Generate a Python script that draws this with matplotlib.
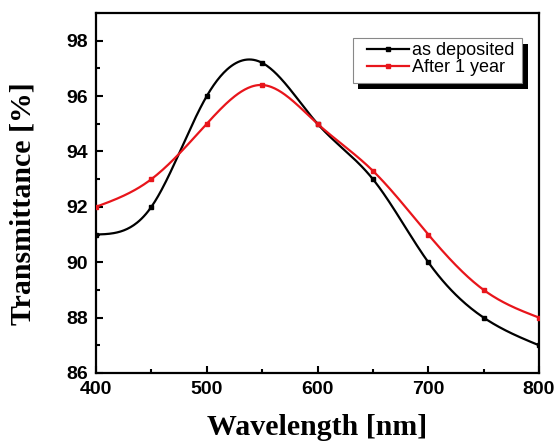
import numpy as np
import matplotlib
matplotlib.use("Agg")
import matplotlib.pyplot as plt
from matplotlib.ticker import MultipleLocator
from matplotlib.path import Path
import matplotlib.patheffects as pe

wavelength = [400, 450, 500, 550, 600, 650, 700, 750, 800]
as_deposited = [91.0, 92.0, 96.0, 97.2, 95.0, 93.0, 90.0, 88.0, 87.0]
after_1_year = [92.0, 93.0, 95.0, 96.4, 95.0, 93.3, 91.0, 89.0, 88.0]
series_labels = ["as deposited", "After 1 year"]
colors = ["black", "#e8151b"]


def natural_spline(x, y, xs):
    x = np.asarray(x, float); y = np.asarray(y, float)
    n = len(x)
    h = np.diff(x)
    A = np.zeros((n, n)); b = np.zeros(n)
    A[0, 0] = 1; A[-1, -1] = 1
    for i in range(1, n - 1):
        A[i, i - 1] = h[i - 1]
        A[i, i] = 2 * (h[i - 1] + h[i])
        A[i, i + 1] = h[i]
        b[i] = 3 * ((y[i + 1] - y[i]) / h[i] - (y[i] - y[i - 1]) / h[i - 1])
    c = np.linalg.solve(A, b)
    out = np.empty_like(xs)
    for k, xv in enumerate(xs):
        i = min(max(np.searchsorted(x, xv) - 1, 0), n - 2)
        dx = xv - x[i]
        bi = (y[i + 1] - y[i]) / h[i] - h[i] * (2 * c[i] + c[i + 1]) / 3
        di = (c[i + 1] - c[i]) / (3 * h[i])
        out[k] = y[i] + bi * dx + c[i] * dx ** 2 + di * dx ** 3
    return out


fig = plt.figure(figsize=(5.54, 4.45), dpi=100)
ax = fig.add_axes([0.1733, 0.1618, 0.7997, 0.809])

xs = np.linspace(400, 800, 400)
for ys, lab, col in zip([as_deposited, after_1_year], series_labels, colors):
    ax.plot(xs, natural_spline(wavelength, ys, xs), color=col, lw=1.6, zorder=3)
    ax.plot(wavelength, ys, ls="none", marker="s", ms=2.5, color=col, zorder=4)

ax.set_xlim(400, 800)
ax.set_ylim(86, 99)
ax.xaxis.set_major_locator(MultipleLocator(100))
ax.xaxis.set_minor_locator(MultipleLocator(50))
ax.yaxis.set_major_locator(MultipleLocator(2))
ax.yaxis.set_minor_locator(MultipleLocator(1))
ax.tick_params(which="both", direction="in", top=False, right=False, width=1.5)
ax.tick_params(which="major", length=5, labelsize=14, pad=6)
ax.tick_params(which="minor", length=3)
for lbl in ax.get_xticklabels() + ax.get_yticklabels():
    lbl.set_fontfamily("Liberation Sans")
    lbl.set_fontweight("bold")
for s in ax.spines.values():
    s.set_linewidth(1.6)

ax.set_xlabel("Wavelength [nm]", fontsize=21.5, fontweight="bold",
              fontfamily="Liberation Serif", labelpad=11)
ax.set_ylabel("Transmittance [%]", fontsize=21.5, fontweight="bold",
              fontfamily="Liberation Serif")
ax.yaxis.set_label_coords(-0.135, 0.471)


def wide_box(x0, y0, width, height, mutation_size, left=10, right=3.5, bottom=2):
    verts = [(x0 - left, y0 - bottom), (x0 + width + right, y0 - bottom),
             (x0 + width + right, y0 + height), (x0 - left, y0 + height),
             (x0 - left, y0 - bottom)]
    return Path(verts, closed=True)


handles = [plt.Line2D([], [], color=c, lw=1.6, marker="s", ms=2.5) for c in colors]
leg = ax.legend(handles, series_labels, loc="upper right",
                bbox_to_anchor=(0.9537, 0.9306), borderaxespad=0,
                fancybox=False, shadow=False,
                prop={"family": "Liberation Sans", "size": 13},
                handlelength=2.3, handletextpad=0.15, borderpad=0.25,
                labelspacing=0.0, framealpha=1)
frame = leg.get_frame()
frame.set_boxstyle(wide_box)
frame.set_edgecolor("#888888")
frame.set_linewidth(0.8)
frame.set_path_effects([pe.SimplePatchShadow(offset=(4, -4), shadow_rgbFace="black", alpha=1.0), pe.Normal()])

fig.savefig("out.png", dpi=100)
